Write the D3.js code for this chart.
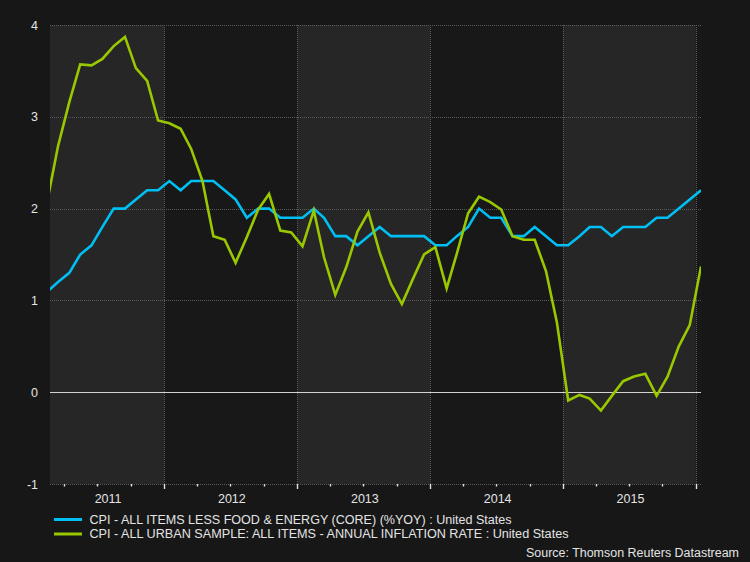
<!DOCTYPE html>
<html>
<head>
<meta charset="utf-8">
<script src="https://cdn.jsdelivr.net/npm/d3@7"></script>
<style>
  html, body { margin: 0; padding: 0; background: #171717; }
  svg { display: block; font-family: "Liberation Sans", Arial, sans-serif; }
</style>
</head>
<body>
<svg id="chart" width="750" height="562"></svg>
<script>
// ---------- data ----------
const firstMonth = [2011, 2];           // Feb 2011, monthly observations
const yearLabels = ["2011", "2012", "2013", "2014", "2015"];
const yTickValues = [-1, 0, 1, 2, 3, 4];

const coreCPI = [
  1.1, 1.2, 1.3, 1.5, 1.6, 1.8, 2.0, 2.0, 2.1, 2.2, 2.2,
  2.3, 2.2, 2.3, 2.3, 2.3, 2.2, 2.1, 1.9, 2.0, 2.0, 1.9, 1.9,
  1.9, 2.0, 1.9, 1.7, 1.7, 1.6, 1.7, 1.8, 1.7, 1.7, 1.7, 1.7,
  1.6, 1.6, 1.7, 1.8, 2.0, 1.9, 1.9, 1.7, 1.7, 1.8, 1.7, 1.6,
  1.6, 1.7, 1.8, 1.8, 1.7, 1.8, 1.8, 1.8, 1.9, 1.9, 2.0, 2.1,
  2.2
];
const headlineCPI = [
  2.11, 2.68, 3.16, 3.57, 3.56, 3.63, 3.77, 3.87, 3.53, 3.39, 2.96,
  2.93, 2.87, 2.65, 2.30, 1.70, 1.66, 1.41, 1.69, 1.99, 2.16, 1.76, 1.74,
  1.59, 1.98, 1.47, 1.06, 1.36, 1.75, 1.96, 1.52, 1.18, 0.96, 1.24, 1.50,
  1.58, 1.13, 1.51, 1.95, 2.13, 2.07, 1.99, 1.70, 1.66, 1.66, 1.32, 0.76,
  -0.09, -0.03, -0.07, -0.20, -0.04, 0.12, 0.17, 0.20, -0.04, 0.17, 0.50, 0.73,
  1.37
];
const seriesNames = [
  "CPI - ALL ITEMS LESS FOOD & ENERGY (CORE) (%YOY) : United States",
  "CPI - ALL URBAN SAMPLE: ALL ITEMS - ANNUAL INFLATION RATE : United States"
];
const sourceText = "Source: Thomson Reuters Datastream";

// ---------- layout ----------
const W = 750, H = 562;
const pL = 50, pR = 701, pT = 25, pB = 484;
const colors = ["#00bff3", "#99c800"];
const textColor = "#e4e4e4";

const svg = d3.select("#chart");
svg.append("rect").attr("width", W).attr("height", H).attr("fill", "#171717");

const dateOf = i => new Date(firstMonth[0], firstMonth[1] - 1 + i, 15);
const x = d3.scaleTime()
  .domain([new Date(2011, 1, 21), new Date(2016, 0, 15)])
  .range([pL, pR]);
const y = d3.scaleLinear().domain([-1, 4]).range([pB, pT]);

// alternating year bands
const yearStarts = d3.range(2011, 2017).map(yr => new Date(yr, 0, 1));
const bandYears = d3.range(2011, 2017);
svg.append("g").selectAll("rect")
  .data(bandYears)
  .join("rect")
  .attr("x", yr => Math.max(pL, x(new Date(yr, 0, 1))))
  .attr("width", yr => Math.min(pR, x(new Date(yr + 1, 0, 1))) - Math.max(pL, x(new Date(yr, 0, 1))))
  .attr("y", pT)
  .attr("height", pB - pT)
  .attr("fill", (yr, i) => i % 2 === 0 ? "#262626" : "#181818");

// horizontal gridlines
svg.append("g").selectAll("line")
  .data(yTickValues.filter(v => v !== 0))
  .join("line")
  .attr("x1", pL).attr("x2", pR)
  .attr("y1", d => Math.round(y(d)) + 0.5).attr("y2", d => Math.round(y(d)) + 0.5)
  .attr("stroke", "#5a5a5a").attr("stroke-width", 1)
  .attr("stroke-dasharray", "1,1");

// vertical gridlines at year boundaries
svg.append("g").selectAll("line")
  .data(yearStarts.filter(d => x(d) > pL && x(d) < pR))
  .join("line")
  .attr("x1", d => Math.round(x(d)) + 0.5).attr("x2", d => Math.round(x(d)) + 0.5)
  .attr("y1", pT).attr("y2", pB)
  .attr("stroke", "#5a5a5a").attr("stroke-width", 1)
  .attr("stroke-dasharray", "1,1");

// zero line
svg.append("line")
  .attr("x1", pL).attr("x2", pR)
  .attr("y1", Math.round(y(0)) + 0.5).attr("y2", Math.round(y(0)) + 0.5)
  .attr("stroke", "#d2d2d2").attr("stroke-width", 1);

// x axis ticks (quarterly, taller at year start)
const qTicks = d3.timeMonth.every(3).range(x.domain()[0], x.domain()[1]);
svg.append("g").selectAll("line")
  .data(qTicks)
  .join("line")
  .attr("x1", d => Math.round(x(d)) + 0.5).attr("x2", d => Math.round(x(d)) + 0.5)
  .attr("y1", pB)
  .attr("y2", d => pB + (d.getMonth() === 0 ? 5 : 2.5))
  .attr("stroke", "#e0e0e0").attr("stroke-width", 1.4);

// year labels centred on visible part of each year
svg.append("g").selectAll("text")
  .data(yearLabels)
  .join("text")
  .attr("x", lbl => {
    const yr = +lbl;
    const a = Math.max(pL, x(new Date(yr, 0, 1)));
    const b = Math.min(pR, x(new Date(yr + 1, 0, 1)));
    return (a + b) / 2 + 1;
  })
  .attr("y", 502.5)
  .attr("text-anchor", "middle")
  .attr("fill", textColor)
  .attr("font-size", 12.5)
  .text(d => d);

// y labels
svg.append("g").selectAll("text")
  .data(yTickValues)
  .join("text")
  .attr("x", 38)
  .attr("y", d => y(d) + 4.5)
  .attr("text-anchor", "end")
  .attr("fill", textColor)
  .attr("font-size", 12.5)
  .text(d => d);

// lines
svg.append("clipPath").attr("id", "plotclip")
  .append("rect").attr("x", pL).attr("y", pT - 5)
  .attr("width", pR - pL).attr("height", pB - pT + 10);

const line = d3.line().x((d, i) => x(dateOf(i))).y(d => y(d));
const lg = svg.append("g").attr("clip-path", "url(#plotclip)");
[coreCPI, headlineCPI].forEach((s, k) => {
  lg.append("path")
    .attr("d", line(s))
    .attr("fill", "none")
    .attr("stroke", colors[k])
    .attr("stroke-width", 2.6)
    .attr("stroke-linejoin", "miter");
});

// legend
const legendRows = [519.5, 534];
const legendWidths = [422, 479];
seriesNames.forEach((name, k) => {
  svg.append("line")
    .attr("x1", 54).attr("x2", 82)
    .attr("y1", legendRows[k]).attr("y2", legendRows[k])
    .attr("stroke", colors[k]).attr("stroke-width", 3);
  svg.append("text")
    .attr("x", 89.5).attr("y", legendRows[k] + 4)
    .attr("fill", textColor)
    .attr("font-size", 12.5)
    .attr("textLength", legendWidths[k])
    .attr("lengthAdjust", "spacingAndGlyphs")
    .text(name);
});

svg.append("text")
  .attr("x", 739).attr("y", 557.3)
  .attr("text-anchor", "end")
  .attr("fill", textColor)
  .attr("font-size", 12.5)
  .attr("textLength", 213)
  .attr("lengthAdjust", "spacingAndGlyphs")
  .text(sourceText);
</script>
</body>
</html>
